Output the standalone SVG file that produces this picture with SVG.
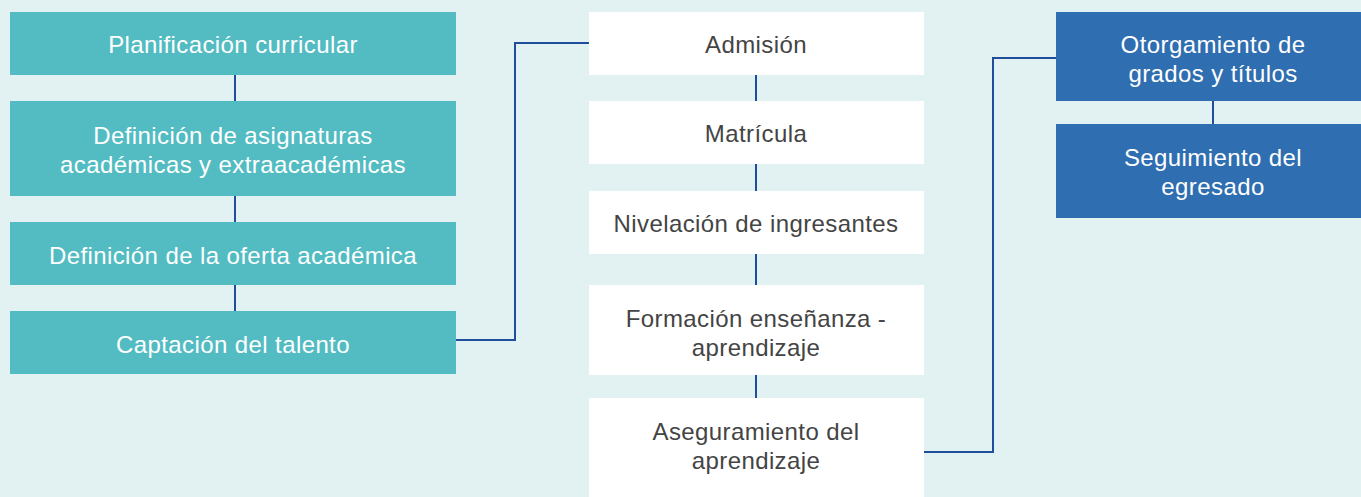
<svg xmlns="http://www.w3.org/2000/svg" width="1361" height="497" viewBox="0 0 1361 497">
<style>
.teal{fill:#52bcc2}
.white{fill:#ffffff}
.blue{fill:#2f6eb0}
text{font-family:"Liberation Sans",Arial,sans-serif;font-size:24px;letter-spacing:0.4px;text-anchor:middle}
.lt{fill:#ffffff}
.dk{fill:#444444}
.conn{stroke:#1f4e9c;stroke-width:2;fill:none}
</style>
<rect width="1361" height="497" fill="#e2f2f3"/>
<g id="connectors">
<path class="conn" d="M235 75V101M235 196V222M235 285V311"/>
<path class="conn" d="M456 340H515V43H589"/>
<path class="conn" d="M756 75V101M756 164V191M756 254V285M756 375V398"/>
<path class="conn" d="M924 452H993V58H1056"/>
<path class="conn" d="M1213 101V124"/>
</g>
<g id="n1"><rect class="teal" x="10" y="12" width="446" height="63"/><text class="lt" x="233" y="53">Planificación curricular</text></g>
<g id="n2"><rect class="teal" x="10" y="101" width="446" height="95"/><text class="lt" x="233" y="144">Definición de asignaturas</text><text class="lt" x="233" y="173">académicas y extraacadémicas</text></g>
<g id="n3"><rect class="teal" x="10" y="222" width="446" height="63"/><text class="lt" x="233" y="264">Definición de la oferta académica</text></g>
<g id="n4"><rect class="teal" x="10" y="311" width="446" height="63"/><text class="lt" x="233" y="353">Captación del talento</text></g>
<g id="m1"><rect class="white" x="589" y="12" width="335" height="63"/><text class="dk" x="756" y="53">Admisión</text></g>
<g id="m2"><rect class="white" x="589" y="101" width="335" height="63"/><text class="dk" x="756" y="142">Matrícula</text></g>
<g id="m3"><rect class="white" x="589" y="191" width="335" height="63"/><text class="dk" x="756" y="232">Nivelación de ingresantes</text></g>
<g id="m4"><rect class="white" x="589" y="285" width="335" height="90"/><text class="dk" x="756" y="327">Formación enseñanza -</text><text class="dk" x="756" y="356">aprendizaje</text></g>
<g id="m5"><rect class="white" x="589" y="398" width="335" height="99"/><text class="dk" x="756" y="440">Aseguramiento del</text><text class="dk" x="756" y="469">aprendizaje</text></g>
<g id="r1"><rect class="blue" x="1056" y="12" width="305" height="89"/><text class="lt" x="1213" y="53">Otorgamiento de</text><text class="lt" x="1213" y="82">grados y títulos</text></g>
<g id="r2"><rect class="blue" x="1056" y="124" width="305" height="94"/><text class="lt" x="1213" y="166">Seguimiento del</text><text class="lt" x="1213" y="195">egresado</text></g>
</svg>
